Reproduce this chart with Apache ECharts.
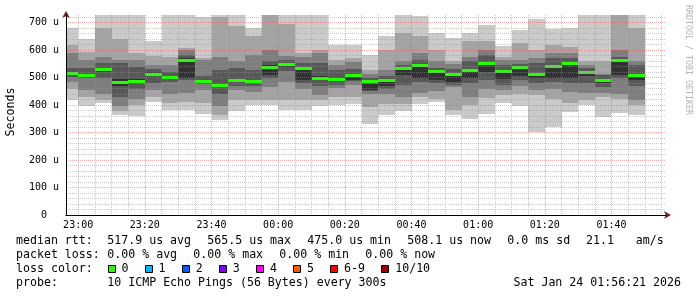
<!DOCTYPE html>
<html><head><meta charset="utf-8">
<script src="https://cdn.jsdelivr.net/npm/echarts@6/dist/echarts.min.js"></script>
<style>html,body{margin:0;padding:0;background:#fff}#c{width:697px;height:297px}</style>
</head><body><div id="c"></div>
<script>
// end time of each 5-minute step (step covers the preceding 300 s)
const endTimes = ["23:00","23:05","23:10","23:15","23:20","23:25","23:30","23:35","23:40","23:45","23:50","23:55",
  "00:00","00:05","00:10","00:15","00:20","00:25","00:30","00:35","00:40","00:45","00:50","00:55",
  "01:00","01:05","01:10","01:15","01:20","01:25","01:30","01:35","01:40","01:45","01:50"];
// sorted ping times (microseconds), ping1 = fastest ... ping10 = slowest
const ping1 = [420,396,408,363,362,410,384,381,367,346,380,400,400,381,381,396,400,405,333,363,377,405,410,363,351,367,406,396,302,322,375,402,357,372,363];
const ping2 = [460,430,418,380,400,430,406,412,406,365,418,418,420,418,418,420,431,430,393,405,405,431,423,381,400,425,436,442,435,424,406,420,431,424,400];
const ping3 = [484,454,441,396,423,455,442,443,455,395,455,446,466,485,460,436,461,473,441,441,431,443,450,466,431,460,455,468,455,460,449,444,445,442,418];
const ping4 = [503,497,500,430,460,480,485,490,478,440,470,470,500,523,479,470,473,488,450,460,473,485,480,475,479,490,475,490,480,485,480,480,465,500,470];
const ping5 = [514,505,522,470,482,505,497,497,482,465,485,480,510,540,491,490,490,491,455,470,510,500,491,483,500,520,495,505,500,500,500,505,480,510,490];
const ping6 = [522,513,535,495,496,520,505,570,492,478,495,490,545,552,533,505,500,509,478,490,530,540,520,507,520,556,520,530,513,540,550,519,495,568,510];
const ping7 = [534,534,555,552,539,530,521,582,505,527,534,527,560,564,552,552,527,530,500,505,547,564,535,530,560,584,545,550,552,570,572,535,510,575,547];
const ping8 = [590,564,576,566,563,545,546,600,565,576,559,583,600,580,576,588,545,556,515,527,560,588,560,548,576,600,566,564,570,588,588,545,515,600,560];
const ping9 = [618,594,680,640,590,580,576,609,570,722,689,650,728,694,588,600,564,570,527,600,663,651,600,560,632,632,576,626,600,619,610,560,560,728,680];
const ping10 = [680,639,728,728,728,632,728,728,722,728,728,681,728,728,728,728,620,620,582,651,728,726,661,645,663,690,616,675,714,677,680,728,728,728,728];
const median = [518,509,531,483,489,513,501,563,489,475,490,487,539,549,536,498,496,511,486,490,534,546,524,513,527,554,525,537,515,542,554,520,493,565.5,508.1];

const xTickLabels = ["23:00","23:20","23:40","00:00","00:20","00:40","01:00","01:20","01:40"];
const yTickValues = [0,100,200,300,400,500,600,700];
const lossLabels = ["0","1","2","3","4","5","6-9","10/10"];
const lossColors = ["#26ff00","#00b8ff","#0059ff","#7e00ff","#ff00ff","#ff5500","#ff0000","#a00000"];
const smokeColors = ["#cacaca","#a4a4a4","#7e7e7e","#585858","#323232"];
const medianColor = "#26ff00";
const legendLines = {
  rtt: ["median rtt:", "517.9 us avg", "565.5 us max", "475.0 us min", "508.1 us now", "0.0 ms", "sd", "21.1", "am/s"],
  loss: ["packet loss:", "0.00 % avg", "0.00 % max", "0.00 % min", "0.00 % now"],
  probe: ["probe:", "10 ICMP Echo Pings (56 Bytes) every 300s"],
  stamp: "Sat Jan 24 01:56:21 2026"
};

// seconds relative to 23:00 on the first day
function toSec(s) {
  const h = +s.slice(0,2), m = +s.slice(3,5);
  return (h >= 12 ? (h - 23) * 3600 : (h + 1) * 3600) + m * 60;
}
function fmt(v) {
  let t = Math.round(v / 60) + 23 * 60;
  t = ((t % 1440) + 1440) % 1440;
  const h = Math.floor(t / 60), m = t % 60;
  return String(h).padStart(2,'0') + ':' + String(m).padStart(2,'0');
}
const X_MIN = -219, X_MAX = 10581, Y_MAX = 728;
const majorX = xTickLabels.map(toSec);
const minorX = [];
for (let s = 300; s <= 10500; s += 300) if (s % 1200 !== 0) minorX.push(s);
const minorY = [];
for (let v = 20; v < Y_MAX; v += 20) if (v % 100 !== 0) minorY.push(v);

const data = endTimes.map((t, i) => [toSec(t), ping1[i], ping2[i], ping3[i], ping4[i], ping5[i],
  ping6[i], ping7[i], ping8[i], ping9[i], ping10[i], median[i]]);

const MONO = '"DejaVu Sans Mono", monospace';
const chart = echarts.init(document.getElementById('c'), null, {renderer: 'canvas'});

const graphics = [];
function txt(x, y, s, extra) {
  graphics.push({type: 'text', x: x, y: y, silent: true,
    style: Object.assign({text: s, font: '11.6px ' + MONO, fill: '#000', align: 'left', verticalAlign: 'middle'}, extra || {})});
}
// legend text rows
const rttX = [16, 107.3, 207.3, 307.3, 407.3, 507.3, 556.3, 586, 635.7];
legendLines.rtt.forEach((s, i) => txt(rttX[i], 241, s));
const lossX = [16, 107.3, 193.3, 279.3, 365.3];
legendLines.loss.forEach((s, i) => txt(lossX[i], 255, s));
txt(16, 269, "loss color:");
let bx = 107.5;
lossLabels.forEach((lab, i) => {
  graphics.push({type: 'rect', silent: true, shape: {x: Math.round(bx) + 0.5, y: 265.5, width: 7, height: 7},
    style: {fill: lossColors[i], stroke: '#000', lineWidth: 1}});
  txt(bx + 14, 269, lab);
  bx += 30.1 + 7 * lab.length;
});
txt(16, 283, legendLines.probe[0]);
txt(107.3, 283, legendLines.probe[1]);
txt(681, 283, legendLines.stamp, {align: 'right'});
// y axis title
graphics.push({type: 'text', x: 11, y: 112, rotation: Math.PI / 2, silent: true,
  style: {text: 'Seconds', font: '11.6px ' + MONO, fill: '#000', align: 'center', verticalAlign: 'middle'}});
// watermark
graphics.push({type: 'text', x: 688, y: 60, rotation: -Math.PI / 2, silent: true,
  style: {text: 'RRDTOOL / TOBI OETIKER', font: '8.3px ' + MONO, fill: '#b4b4b4', align: 'center', verticalAlign: 'middle'}});

const minorLine = {show: true, lineStyle: {color: 'rgba(150,150,150,0.5)', width: 1, type: [1, 1]}};
const majorLine = {show: true, lineStyle: {color: 'rgba(222,79,79,0.45)', width: 1, type: [1, 1]}};

chart.setOption({
  animation: false,
  backgroundColor: '#fff',
  grid: {left: 66, right: 31, top: 15, bottom: 82, containLabel: false},
  xAxis: [{
    type: 'value', min: X_MIN, max: X_MAX, position: 'bottom', z: 6,
    axisLine: {show: true, onZero: false, lineStyle: {color: '#000', width: 1}},
    axisTick: {show: false, customValues: majorX},
    axisLabel: {show: true, customValues: majorX, formatter: fmt, margin: 5,
      fontFamily: 'DejaVu Sans Mono', fontSize: 10, color: '#000'},
    splitLine: majorLine
  }, {
    type: 'value', min: X_MIN, max: X_MAX, position: 'top', offset: -200, z: 5,
    axisLine: {show: true, onZero: false, symbol: ['none', 'arrow'], symbolSize: [6, 7], symbolOffset: [0, 5],
      lineStyle: {color: '#801f1f', width: 1}},
    axisTick: {show: false, customValues: minorX},
    axisLabel: {show: false},
    splitLine: minorLine
  }],
  yAxis: [{
    type: 'value', min: 0, max: Y_MAX, position: 'left', z: 6,
    axisLine: {show: true, onZero: false, lineStyle: {color: '#000', width: 1}},
    axisTick: {show: false, customValues: yTickValues},
    axisLabel: {show: true, customValues: yTickValues, margin: 7,
      formatter: v => v === 0 ? '0  ' : v + ' u',
      fontFamily: 'DejaVu Sans Mono', fontSize: 10, color: '#000'},
    splitLine: majorLine
  }, {
    type: 'value', min: 0, max: Y_MAX, position: 'right', offset: -600, z: 5,
    axisLine: {show: true, onZero: false, symbol: ['none', 'arrow'], symbolSize: [6, 7], symbolOffset: [0, 4],
      lineStyle: {color: '#801f1f', width: 1}},
    axisTick: {show: false, customValues: minorY},
    axisLabel: {show: false},
    splitLine: minorLine
  }],
  series: [{
    type: 'custom', xAxisIndex: 0, yAxisIndex: 0, z: 2,
    data: data,
    renderItem: function (params, api) {
      const t = api.value(0);
      const cs = params.coordSys;
      const clip = {x: cs.x, y: cs.y, width: cs.width, height: cs.height};
      const x0 = Math.round(api.coord([t - 300, 0])[0]);
      const x1 = Math.round(api.coord([t, 0])[0]);
      const children = [];
      for (let k = 0; k < 5; k++) {
        const lo = api.value(1 + k), hi = api.value(10 - k);
        const yt = Math.round(api.coord([t, hi])[1]);
        const yb = Math.round(api.coord([t, lo])[1]);
        const r = echarts.graphic.clipRectByRect({x: x0, y: yt, width: x1 - x0, height: yb - yt}, clip);
        if (r) children.push({type: 'rect', shape: r, style: {fill: smokeColors[k]}});
      }
      const ym = Math.round(api.coord([t, api.value(11)])[1]);
      const rm = echarts.graphic.clipRectByRect({x: x0, y: ym - 1, width: x1 - x0, height: 3}, clip);
      if (rm) children.push({type: 'rect', shape: rm, style: {fill: medianColor}});
      return {type: 'group', children: children};
    }
  }],
  graphic: graphics
});
</script></body></html>
